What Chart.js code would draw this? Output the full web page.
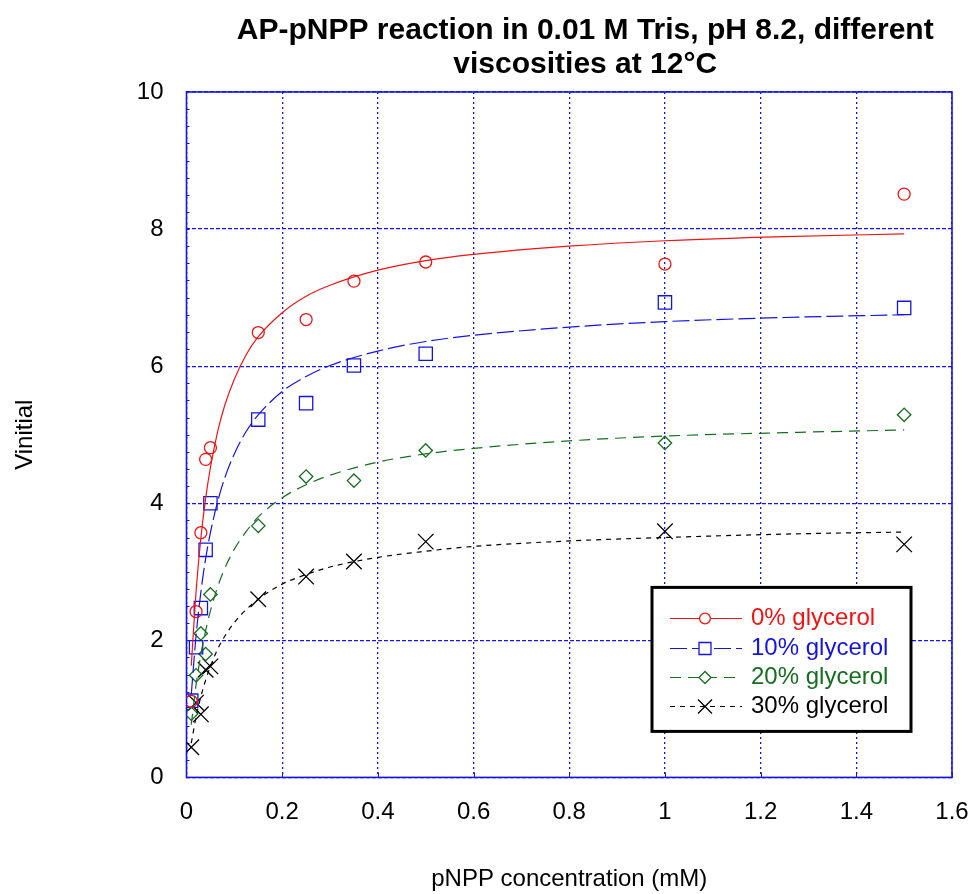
<!DOCTYPE html>
<html>
<head>
<meta charset="utf-8">
<title>AP-pNPP reaction</title>
<script src="https://cdn.jsdelivr.net/npm/chart.js@4.4.1/dist/chart.umd.min.js"></script>
<style>
  html, body { margin: 0; padding: 0; background: #fff; }
</style>
</head>
<body>
<canvas id="chart" width="975" height="894"></canvas>
<script>
'use strict';

const FONT = 'Liberation Sans, Arial, Helvetica, sans-serif';
const GRID = 'rgb(20, 20, 235)';

const titleLines = ['AP-pNPP reaction in 0.01 M Tris, pH 8.2, different', 'viscosities at 12°C'];

// pNPP concentrations of the measured points (mM)
const concentrations = [0.01, 0.02, 0.03, 0.04, 0.05, 0.15, 0.25, 0.35, 0.5, 1.0, 1.5];

// measured initial rates
const rates0 = [1.11, 2.42, 3.57, 4.64, 4.81, 6.49, 6.68, 7.24, 7.52, 7.49, 8.51];
const rates10 = [1.12, 1.90, 2.47, 3.32, 4.00, 5.22, 5.46, 6.01, 6.18, 6.93, 6.85];
const rates20 = [0.93, 1.49, 2.10, 1.80, 2.67, 3.67, 4.39, 4.33, 4.77, 4.88, 5.29];
const rates30 = [0.44, 1.09, 0.92, 1.57, 1.62, 2.60, 2.93, 3.15, 3.44, 3.59, 3.40];

// fitted curves, read along the concentration axis
const fitConcentrations = [0.01, 0.02, 0.03, 0.04, 0.05, 0.065, 0.08, 0.1, 0.125, 0.15,
  0.2, 0.25, 0.3, 0.4, 0.5, 0.6, 0.8, 1.0, 1.25, 1.5];
const fit0 = [1.63, 2.71, 3.49, 4.07, 4.52, 5.04, 5.43, 5.81, 6.17, 6.43,
  6.78, 7.02, 7.18, 7.40, 7.54, 7.63, 7.75, 7.83, 7.89, 7.93];
const fit10 = [1.21, 2.07, 2.70, 3.19, 3.57, 4.02, 4.37, 4.72, 5.05, 5.29,
  5.63, 5.85, 6.01, 6.22, 6.36, 6.45, 6.57, 6.65, 6.71, 6.75];
const fit20 = [0.77, 1.35, 1.79, 2.14, 2.43, 2.78, 3.05, 3.33, 3.59, 3.80,
  4.08, 4.27, 4.41, 4.60, 4.72, 4.80, 4.91, 4.98, 5.03, 5.07];
const fit30 = [0.50, 0.88, 1.18, 1.42, 1.62, 1.87, 2.06, 2.26, 2.45, 2.60,
  2.82, 2.96, 3.07, 3.21, 3.30, 3.37, 3.45, 3.50, 3.55, 3.58];

const labels = ['0% glycerol', '10% glycerol', '20% glycerol', '30% glycerol'];

// drawing style for each glycerol series
const styles = [
  { color: 'rgb(240, 20, 20)', dash: [], pointStyle: 'circle', radius: 6 },
  { color: 'rgb(20, 20, 225)', dash: [17, 5], pointStyle: 'rect', radius: 9.4 },
  { color: 'rgb(20, 110, 30)', dash: [11, 7], pointStyle: 'rectRot', radius: 6.7 },
  { color: 'rgb(0, 0, 0)', dash: [5, 5], pointStyle: 'crossRot', radius: 11 }
];

const rateSets = [rates0, rates10, rates20, rates30];
const fitSets = [fit0, fit10, fit20, fit30];

function toPoints(xs, ys) {
  return xs.map((x, i) => ({ x: x, y: ys[i] }));
}

const datasets = [];
fitSets.forEach((fit, i) => {
  datasets.push({
    label: labels[i] + ' fit',
    data: toPoints(fitConcentrations, fit),
    showLine: true,
    borderColor: styles[i].color,
    borderWidth: 1.2,
    borderDash: styles[i].dash,
    cubicInterpolationMode: 'monotone',
    pointRadius: 0
  });
});
rateSets.forEach((rates, i) => {
  datasets.push({
    label: labels[i],
    data: toPoints(concentrations, rates),
    showLine: false,
    pointStyle: styles[i].pointStyle,
    pointRadius: styles[i].radius,
    pointBorderWidth: 1.3,
    pointBorderColor: styles[i].color,
    pointBackgroundColor: 'rgba(0, 0, 0, 0)',
    borderColor: styles[i].color,
    backgroundColor: 'rgba(0, 0, 0, 0)'
  });
});

// Solid frame round the plot plus the small inside tick marks.
const plotFrame = {
  id: 'plotFrame',
  beforeDatasetsDraw(chart) {
    const { ctx, chartArea: a, scales } = chart;
    ctx.save();
    ctx.strokeStyle = GRID;
    ctx.lineWidth = 1;
    ctx.beginPath();
    for (let v = 0.25; v < 10; v += 0.25) {
      const y = Math.round(scales.y.getPixelForValue(v)) + 0.5;
      ctx.moveTo(a.left, y);
      ctx.lineTo(a.left + 3, y);
    }
    for (let v = 0.2; v < 1.6; v += 0.2) {
      const x = Math.round(scales.x.getPixelForValue(v)) + 0.5;
      ctx.moveTo(x, a.bottom);
      ctx.lineTo(x, a.bottom - 5);
    }
    ctx.stroke();
    ctx.lineWidth = 1.6;
    ctx.strokeRect(a.left, a.top, a.right - a.left, a.bottom - a.top);
    ctx.restore();
  }
};

// Boxed legend with a line sample and marker per series.
const legendBox = {
  id: 'legendBox',
  afterDatasetsDraw(chart) {
    const { ctx, chartArea: a } = chart;
    const w = 259, h = 144;
    const x0 = a.right - 41 - w;
    const y0 = a.bottom - 46 - h;
    ctx.save();
    ctx.fillStyle = '#fff';
    ctx.fillRect(x0, y0, w, h);
    ctx.lineWidth = 3;
    ctx.strokeStyle = '#000';
    ctx.strokeRect(x0, y0, w, h);
    ctx.font = '24px ' + FONT;
    ctx.textBaseline = 'middle';
    ctx.textAlign = 'left';
    labels.forEach((label, i) => {
      const s = styles[i];
      const y = Math.round(y0 + 31 + i * 29.2) + 0.5;
      ctx.strokeStyle = s.color;
      ctx.lineWidth = 1.2;
      ctx.setLineDash(s.dash);
      ctx.beginPath();
      ctx.moveTo(x0 + 18, y);
      ctx.lineTo(x0 + 90, y);
      ctx.stroke();
      ctx.setLineDash([]);
      ctx.fillStyle = '#fff';
      ctx.lineWidth = 1.3;
      Chart.helpers.drawPoint(ctx, { pointStyle: s.pointStyle, radius: s.radius * 0.9, rotation: 0, borderWidth: 1.3 }, x0 + 53, y);
      ctx.fillStyle = s.color;
      ctx.fillText(label, x0 + 99, y);
    });
    ctx.restore();
  }
};

// Two-line bold heading above the plot.
const heading = {
  id: 'heading',
  afterDraw(chart) {
    const { ctx, chartArea: a } = chart;
    ctx.save();
    ctx.font = 'bold 30px ' + FONT;
    ctx.fillStyle = '#000';
    ctx.textAlign = 'center';
    ctx.textBaseline = 'middle';
    const cx = (a.left + a.right) / 2 + 16;
    titleLines.forEach((line, i) => ctx.fillText(line, cx, 31 + i * 34));
    ctx.restore();
  }
};

new Chart(document.getElementById('chart'), {
  type: 'scatter',
  data: { datasets: datasets },
  plugins: [plotFrame, legendBox, heading],
  options: {
    responsive: false,
    animation: false,
    layout: { padding: { top: 92, right: 23, bottom: 0, left: 4 } },
    plugins: {
      legend: { display: false },
      title: { display: false },
      tooltip: { enabled: false }
    },
    scales: {
      x: {
        type: 'linear',
        min: 0,
        max: 1.6,
        ticks: {
          stepSize: 0.2,
          padding: 3,
          color: '#000',
          maxRotation: 0,
          autoSkip: false,
          font: { family: FONT, size: 24 },
          callback: v => String(+v.toFixed(1))
        },
        // invisible tick marks keep the labels clear of the axis
        grid: { color: GRID, lineWidth: 1.3, drawTicks: true, tickLength: 18, tickColor: 'rgba(0, 0, 0, 0)' },
        border: { display: false, dash: [2, 3] },
        title: {
          display: true,
          text: 'pNPP concentration (mM)',
          color: '#000',
          font: { family: FONT, size: 24 },
          padding: { top: 35, bottom: 0 }
        }
      },
      y: {
        type: 'linear',
        min: 0,
        max: 10,
        ticks: {
          stepSize: 2,
          padding: 23,
          color: '#000',
          font: { family: FONT, size: 24 }
        },
        grid: { color: GRID, lineWidth: 1.2, drawTicks: false },
        border: { display: false, dash: [4, 2] },
        title: {
          display: true,
          text: 'Vinitial',
          color: '#000',
          font: { family: FONT, size: 24 },
          padding: { top: 7, bottom: 74 }
        }
      }
    }
  }
});
</script>
</body>
</html>
